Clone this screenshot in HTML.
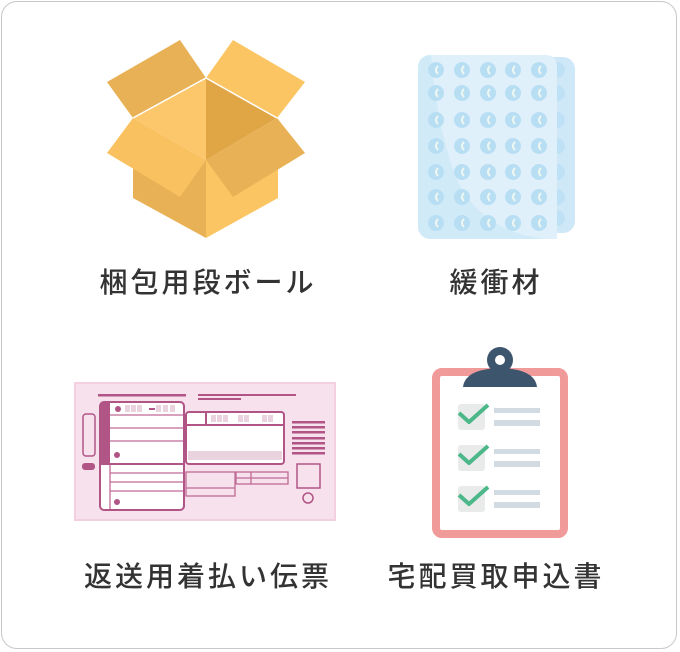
<!DOCTYPE html>
<html><head><meta charset="utf-8"><style>
html,body{margin:0;padding:0;background:#fff}
body{width:680px;height:652px;position:relative;overflow:hidden}
.frame{position:absolute;left:1px;top:1px;width:676px;height:648px;border:1px solid #c8c8c8;border-radius:16px;box-sizing:border-box}
.lbl{position:absolute;width:300px;text-align:center;font-family:"Liberation Sans","Noto Sans CJK JP",sans-serif;font-weight:500;font-size:28px;letter-spacing:3px;color:#333;line-height:30px}
svg{position:absolute;left:0;top:0}
</style></head><body>
<div class="frame"></div>
<svg width="680" height="652" viewBox="0 0 680 652">
<!-- box -->
<polygon points="107,82 180,40 206,78 133,118" fill="#e8b155"/>
<polygon points="206,78 233,40 305,82 277,118" fill="#fbc563"/>
<polygon points="133,118 206,78 206,160" fill="#fcc66a"/>
<polygon points="206,78 277,118 206,160" fill="#e0a544"/>
<polyline points="133,118 206,78 277,118" fill="none" stroke="#fff" stroke-width="1.5"/>
<polygon points="133,168 206,160 206,238 133,198" fill="#e8b155"/>
<polygon points="206,160 278,168 278,198 206,238" fill="#fbc563"/>
<polygon points="107,153 133,118 206,160 180,197" fill="#fac160"/>
<polygon points="206,160 277,118 305,153 233,197" fill="#e8b155"/>
<!-- bubble wrap -->
<rect x="540" y="57" width="35" height="176" rx="12" fill="#cfe8f7"/>
<g fill="#bfe1f5"><circle cx="557" cy="70" r="8"/><circle cx="557" cy="93" r="8"/><circle cx="557" cy="120" r="8"/><circle cx="557" cy="146" r="8"/><circle cx="557" cy="172" r="8"/><circle cx="557" cy="197" r="8"/><circle cx="557" cy="218" r="8"/></g>
<rect x="418" y="55" width="139" height="184" rx="12" fill="#d1eaf8"/>
<path d="M431,55 L545,55 Q557,55 557,67 L557,239 L545,239 Q470,230 450,160 Q435,110 431,55 Z" fill="#dff0fb"/>
<g fill="#b8def4">
<g id="r"><circle cx="436" cy="70" r="8"/><circle cx="462" cy="70" r="8"/><circle cx="488" cy="70" r="8"/><circle cx="513" cy="70" r="8"/><circle cx="539" cy="70" r="8"/></g>
<use href="#r" y="23"/><use href="#r" y="50"/><use href="#r" y="76"/><use href="#r" y="102"/><use href="#r" y="127"/><use href="#r" y="153"/>
</g>
<g fill="none" stroke="#eef6f0" stroke-width="2">
<g id="c"><path d="M438,66 Q434,70 438,74"/><path d="M464,66 Q460,70 464,74"/><path d="M490,66 Q486,70 490,74"/><path d="M515,66 Q511,70 515,74"/><path d="M541,66 Q537,70 541,74"/></g>
<use href="#c" y="23"/><use href="#c" y="50"/><use href="#c" y="76"/><use href="#c" y="102"/><use href="#c" y="127"/><use href="#c" y="153"/>
</g>
<!-- slip -->
<rect x="75" y="383" width="260" height="137" fill="#f7e1ed" stroke="#f3cfe0" stroke-width="2"/>
<g fill="#b05585">
<rect x="98" y="394" width="88" height="2.5"/><rect x="198" y="394" width="98" height="2"/><rect x="198" y="398" width="43" height="2"/>
<rect x="292" y="421" width="33" height="2.5"/><rect x="292" y="426" width="33" height="2.5"/><rect x="292" y="431" width="33" height="2.5"/><rect x="292" y="437" width="33" height="2.5"/><rect x="292" y="442" width="33" height="2.5"/><rect x="292" y="447" width="33" height="2.5"/><rect x="292" y="452" width="33" height="2.5"/>
<rect x="82" y="463" width="13" height="7" rx="3"/>
</g>
<rect x="100" y="402" width="84" height="108" rx="4" fill="#fff"/>
<rect x="186" y="412" width="98" height="52" rx="3" fill="#fff"/>
<rect x="186" y="472" width="49" height="24" fill="#f7e1ed"/>
<g fill="none" stroke="#c06a96" stroke-width="1.3">
<line x1="110" y1="415" x2="184" y2="415"/><line x1="110" y1="428" x2="184" y2="428"/><line x1="110" y1="441" x2="184" y2="441"/>
<line x1="110" y1="473" x2="184" y2="473"/><line x1="110" y1="482" x2="184" y2="482"/><line x1="110" y1="491" x2="184" y2="491"/>
<line x1="110" y1="464" x2="110" y2="510"/>
<rect x="186" y="472" width="49" height="24"/><line x1="186" y1="488" x2="235" y2="488"/>
<rect x="236" y="472" width="52" height="12"/><line x1="236" y1="478" x2="288" y2="478"/><line x1="251" y1="472" x2="251" y2="484"/>
</g>
<path d="M104,402 h6 v62 h-10 v-58 a4,4 0 0 1 4,-4z" fill="#b05585"/>
<g fill="none" stroke="#b05585" stroke-width="2">
<rect x="83" y="414" width="12" height="42" rx="3" stroke-width="1.5"/>
<rect x="100" y="402" width="84" height="108" rx="4"/>
<line x1="100" y1="464" x2="184" y2="464"/>
<rect x="186" y="412" width="98" height="52" rx="3"/>
<line x1="186" y1="425" x2="284" y2="425"/><line x1="206" y1="412" x2="206" y2="425"/>
<rect x="297" y="464" width="23" height="24" stroke-width="1.5"/>
<circle cx="308" cy="498" r="5" stroke-width="1.5"/>
</g>
<rect x="188" y="451" width="94" height="9" fill="#ead3df"/>
<g fill="#b05585"><circle cx="118" cy="409" r="3"/><circle cx="117" cy="455" r="3"/><circle cx="117" cy="502" r="3"/><rect x="149" y="408" width="6" height="2"/></g>
<g fill="#ead3df"><rect x="125" y="405" width="5" height="7"/><rect x="131" y="405" width="5" height="7"/><rect x="137" y="405" width="5" height="7"/><rect x="156" y="405" width="5" height="7"/><rect x="163" y="405" width="5" height="7"/><rect x="170" y="405" width="5" height="7"/>
<rect x="211" y="415" width="5" height="7"/><rect x="217" y="415" width="5" height="7"/><rect x="223" y="415" width="5" height="7"/><rect x="238" y="415" width="5" height="7"/><rect x="244" y="415" width="5" height="7"/><rect x="262" y="415" width="5" height="7"/><rect x="268" y="415" width="5" height="7"/></g>
<!-- clipboard -->
<rect x="436" y="372" width="128" height="162" rx="6" fill="#fff" stroke="#f09a9a" stroke-width="8"/>
<circle cx="500" cy="360" r="13" fill="#3d566e"/>
<path d="M463,387 Q465,369 500,368 Q535,369 537,387 Z" fill="#3d566e"/>
<circle cx="500" cy="360" r="5" fill="#fff"/>
<g>
<rect x="458" y="404" width="27" height="26" rx="3" fill="#e9eaea"/><rect x="458" y="445" width="27" height="26" rx="3" fill="#e9eaea"/><rect x="458" y="486" width="27" height="26" rx="3" fill="#e9eaea"/>
<g fill="#d2dae2"><rect x="494" y="408" width="46" height="5"/><rect x="494" y="420" width="46" height="6"/><rect x="494" y="449" width="46" height="5"/><rect x="494" y="461" width="46" height="6"/><rect x="494" y="490" width="46" height="5"/><rect x="494" y="502" width="46" height="6"/></g>
<g fill="none" stroke="#4cb88a" stroke-width="4" stroke-linejoin="round"><polyline points="459,413 469,422 488,405"/><polyline points="459,454 469,463 488,446"/><polyline points="459,495 469,504 488,487"/></g>
</g>
</svg>
<div class="lbl" style="left:58px;top:268px">梱包用段ボール</div>
<div class="lbl" style="left:346px;top:268px">緩衝材</div>
<div class="lbl" style="left:58px;top:562px">返送用着払い伝票</div>
<div class="lbl" style="left:346px;top:562px">宅配買取申込書</div>
</body></html>
